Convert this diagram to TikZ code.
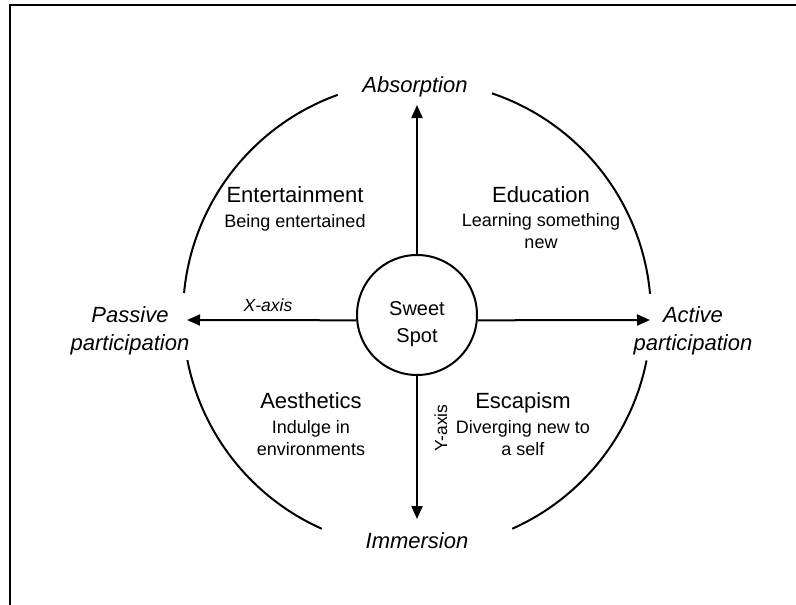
\documentclass[tikz,border=0pt]{standalone}
\usepackage{fontspec}
\setmainfont{Liberation Sans}
\usetikzlibrary{arrows.meta}
\tikzset{
  ax/.style={line width=2pt, -{Triangle[length=13pt,width=11pt]}},
  ring/.style={line width=2pt},
  pole/.style={font=\fontsize{22}{28}\selectfont\itshape, anchor=base, align=center, inner sep=0pt},
  quadhead/.style={font=\fontsize{22}{26}\selectfont, anchor=base, inner sep=0pt},
  subtext/.style={font=\fontsize{18}{21.5}\selectfont, anchor=base, align=center, inner sep=0pt},
  axlabel/.style={font=\fontsize{17.5}{20}\selectfont, anchor=base, inner sep=0pt},
}
\begin{document}
\begin{tikzpicture}[x=1pt,y=-1pt]
\useasboundingbox (0,0) rectangle (796,605);
% frame edges
\draw[line width=2.5pt] (10,605) -- (10,5) -- (796,5);
\coordinate (c) at (417,315);
% outer ring, broken at the four pole labels
\draw[ring] (c) ++(-71.3:234) arc[start angle=-71.3, end angle=-5.2, radius=234];
\draw[ring] (c) ++(-109.8:234) arc[start angle=-109.8, end angle=-174.6, radius=234];
\draw[ring] (c) ++(168.9:234) arc[start angle=168.9, end angle=114, radius=234];
\draw[ring] (c) ++(66:234) arc[start angle=66, end angle=11.2, radius=234];
% centre circle (multi-line nodes are placed by their last baseline)
\node[circle, draw, line width=2pt, minimum size=120pt, inner sep=0pt] (sweet) at (c) {};
\node[font=\fontsize{20}{26.5}\selectfont, anchor=base, align=center, inner sep=0pt] (sweettxt) at (417,342) {Sweet\\Spot};
% axes
\coordinate (ptop) at (417,105);
\coordinate (pbot) at (417,519);
\coordinate (pleft) at (187,320);
\coordinate (pright) at (650,320);
\draw[ax] (sweet.north) -- (ptop);
\draw[ax] (sweet.south) -- (pbot);
\draw[ax] (sweet.185) -- (pleft);
\draw[ax] (sweet.-5) -- (pright);
% pole labels
\node[pole] (absorb) at (415,92) {Absorption};
\node[pole] (immerse) at (417,548) {Immersion};
\node[pole] (passive) at (130,350) {Passive\\participation};
\node[pole] (active) at (693,350) {Active\\participation};
% quadrant labels
\node[quadhead] (ent) at (295,202) {Entertainment};
\node[subtext] (entsub) at (295,227) {Being entertained};
\node[quadhead] (edu) at (541,202) {Education};
\node[subtext] (edusub) at (541,248) {Learning something\\new};
\node[quadhead] (aes) at (311,408) {Aesthetics};
\node[subtext] (aessub) at (311,455) {Indulge in\\environments};
\node[quadhead] (esc) at (523,408) {Escapism};
\node[subtext] (escsub) at (523,455) {Diverging new to\\a self};
% axis names
\node[axlabel, font=\fontsize{17.5}{20}\selectfont\itshape] (xlab) at (268,311) {X-axis};
\node[axlabel, rotate=90] (ylab) at (447,428) {Y-axis};
\end{tikzpicture}
\end{document}
